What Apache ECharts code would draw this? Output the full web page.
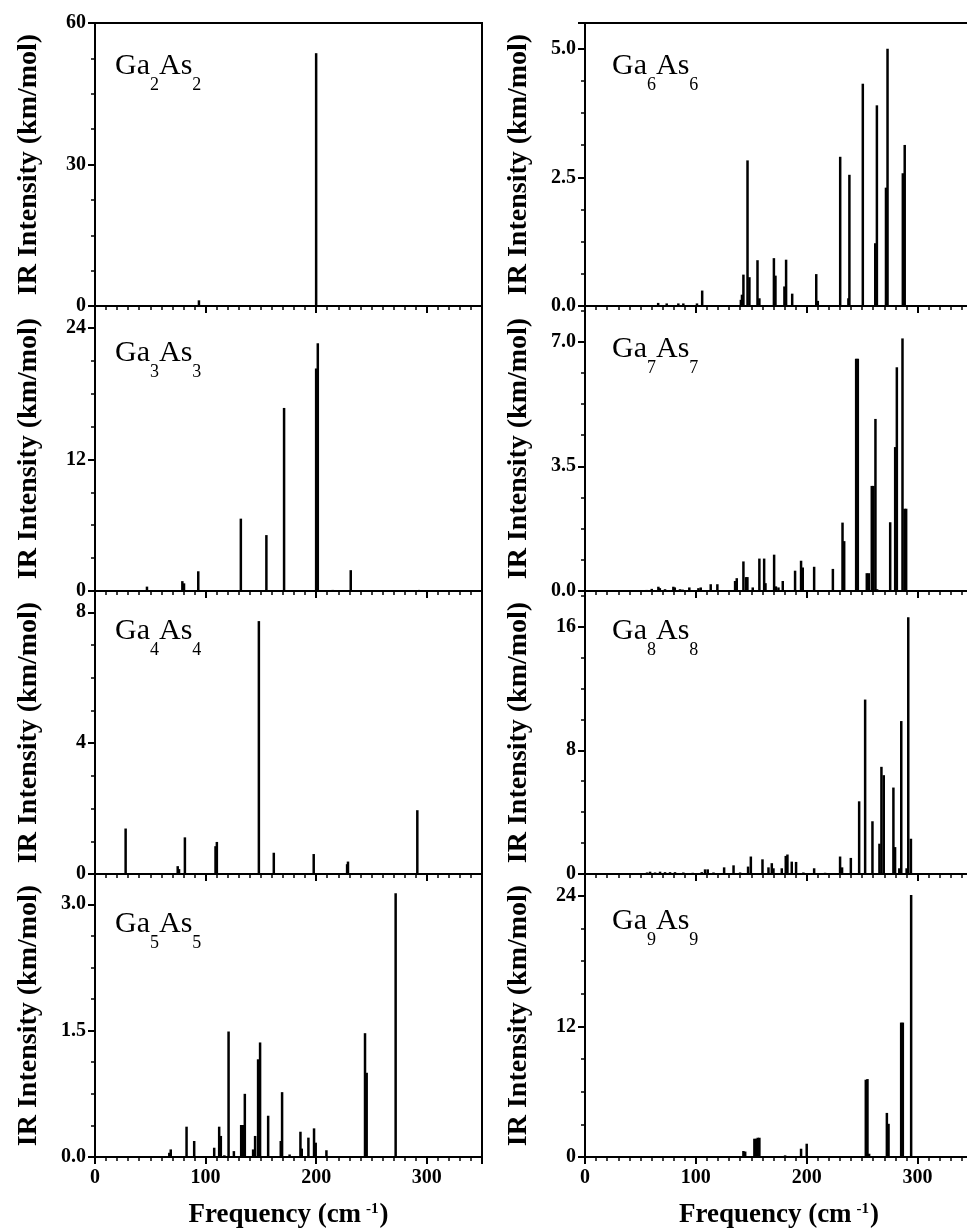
<!DOCTYPE html>
<html>
<head>
<meta charset="utf-8">
<script src="https://cdn.jsdelivr.net/npm/echarts@6/dist/echarts.min.js"></script>
<style>
  html, body { margin: 0; padding: 0; background: #fff; }
  #chart { width: 967px; height: 1230px; }
</style>
</head>
<body>
<div id="chart"></div>
<script>
// stick spectra, frequency (cm-1) / IR intensity (km/mol)
var ga2Freq = [94, 200];
var ga2Int = [1.2, 53.6];

var ga3Freq = [47, 79, 80.5, 93.4, 131.9, 155, 171, 200, 201.5, 215, 231.3, 293];
var ga3Int = [0.4, 0.9, 0.7, 1.8, 6.6, 5.1, 16.7, 20.3, 22.6, 0.1, 1.9, 0.1];

var ga4Freq = [27.7, 74.8, 76, 81.3, 109, 110.2, 148.2, 161.7, 197.8, 228, 228.8, 291.5];
var ga4Int = [1.39, 0.24, 0.15, 1.12, 0.85, 0.98, 7.73, 0.65, 0.61, 0.3, 0.38, 1.95];

var ga5Freq = [67.2, 68.5, 82.8, 89.7, 107.8, 112.3, 113.8, 117, 120.8, 125.6, 132.2, 133.7, 135.5, 143, 144.8,
  147.5, 149.3, 156.6, 168, 169.2, 176, 185.8, 187, 193, 198.1, 199.6, 209.3, 244.2, 245.7, 271.9];
var ga5Int = [0.05, 0.09, 0.36, 0.19, 0.11, 0.36, 0.25, 0.02, 1.49, 0.07, 0.38, 0.38, 0.75, 0.09, 0.25,
  1.16, 1.36, 0.49, 0.19, 0.77, 0.03, 0.3, 0.1, 0.23, 0.34, 0.17, 0.08, 1.47, 1.0, 3.13];

var ga6Freq = [37.6, 66, 73.7, 84.2, 88.7, 101, 105.7, 140.6, 141.6, 142.9, 146.6, 148.3, 155.6, 157.3,
  170.4, 171.8, 179.9, 181.4, 186.9, 208.6, 210, 230.2, 237.6, 238.5, 250.6, 261.8, 263.3, 271.5, 272.9, 286.7, 288.4];
var ga6Int = [0.02, 0.06, 0.05, 0.05, 0.05, 0.05, 0.3, 0.12, 0.22, 0.61, 2.83, 0.56, 0.89, 0.15,
  0.93, 0.59, 0.38, 0.9, 0.24, 0.62, 0.1, 2.9, 0.15, 2.55, 4.32, 1.22, 3.9, 2.3, 5.0, 2.58, 3.13];

var ga7Freq = [52.6, 55.6, 60.2, 66.2, 67.5, 72.2, 79.7, 81, 85.7, 88, 94.1, 102.3, 104.4, 113.4, 119.4,
  135.4, 136.9, 142.9, 145.3, 146.5, 151.3, 157.3, 161.6, 162.8, 170.6, 172.2, 174.5, 178.4, 189.5, 194.9,
  196.4, 206.7, 223.6, 232.3, 233.8, 244.6, 246.1, 254.2, 256, 258.7, 260.2, 262, 263.5, 275.3, 279.8,
  281.3, 286.4, 288.2, 289.7];
var ga7Int = [0.02, 0.03, 0.06, 0.12, 0.08, 0.05, 0.12, 0.1, 0.05, 0.04, 0.1, 0.08, 0.1, 0.19, 0.19,
  0.28, 0.36, 0.83, 0.39, 0.39, 0.1, 0.91, 0.91, 0.22, 1.02, 0.13, 0.1, 0.28, 0.57, 0.85,
  0.66, 0.68, 0.62, 1.92, 1.4, 6.52, 6.52, 0.5, 0.5, 2.95, 2.95, 4.83, 0.05, 1.93, 4.04,
  6.28, 7.09, 2.31, 2.31];

var ga8Freq = [47, 56, 58.7, 63.2, 67.7, 72.2, 76.7, 81.2, 88.7, 97.2, 105.3, 108.3, 110.7, 115.9, 125.5,
  134, 139.9, 147.1, 149.6, 160.1, 165.5, 168.5, 170, 177.5, 181.1, 182.6, 186.5, 190.4, 197, 206.7,
  216.6, 230.1, 231.9, 239.8, 247.3, 252.7, 259.3, 265.6, 267.4, 269.5, 278.2, 279.7, 283.5, 285.3,
  290.1, 291.6, 294];
var ga8Int = [0.03, 0.1, 0.15, 0.1, 0.15, 0.12, 0.12, 0.12, 0.1, 0.08, 0.12, 0.3, 0.3, 0.1, 0.43,
  0.56, 0.1, 0.48, 1.13, 0.95, 0.43, 0.7, 0.37, 0.37, 1.17, 1.26, 0.8, 0.78, 0.1, 0.37,
  0.08, 1.13, 0.43, 1.04, 4.7, 11.28, 3.41, 1.96, 6.93, 6.39, 5.59, 1.74, 0.37, 9.89,
  0.37, 16.6, 2.28];

var ga9Freq = [142.9, 144.5, 152.8, 154.3, 155.8, 157.3, 180.5, 194.9, 200, 253.3, 254.8, 256.3, 272.3, 273.8, 285.2, 286.7, 294.2];
var ga9Int = [0.55, 0.5, 1.68, 1.68, 1.77, 1.77, 0.15, 0.76, 1.22, 7.1, 7.16, 0.3, 4.05, 3.05, 12.35, 12.35, 24.08];

// cluster size n, y-axis top, major tick step, decimals on tick labels
var clusterN = [2, 3, 4, 5, 6, 7, 8, 9];
var yMax = [60, 26, 8.65, 3.36, 5.5, 8, 18.3, 26];
var yStep = [30, 12, 4, 1.5, 2.5, 3.5, 8, 12];
var yDec = [0, 0, 0, 1, 1, 1, 0, 0];
var xTicks = [0, 100, 200, 300];

var freqs = [ga2Freq, ga3Freq, ga4Freq, ga5Freq, ga6Freq, ga7Freq, ga8Freq, ga9Freq];
var ints = [ga2Int, ga3Int, ga4Int, ga5Int, ga6Int, ga7Int, ga8Int, ga9Int];

// layout
var rowTops = [23, 306, 591, 874, 1157];
var colLeft = [95, 585];
var colWidth = [387, 388];
var labelDy = [28, 32, 25, 35, 28, 28, 25, 32];
var serif = 'Liberation Serif';

var grids = [], xAxes = [], yAxes = [], series = [], titles = [];

for (var i = 0; i < 8; i++) {
  var col = i < 4 ? 0 : 1;
  var row = i % 4;
  var bottom = row === 3;
  var dec = yDec[i];

  grids.push({
    left: colLeft[col],
    width: colWidth[col],
    top: rowTops[row],
    height: rowTops[row + 1] - rowTops[row],
    show: true,
    borderColor: '#000',
    borderWidth: 2,
    containLabel: false,
    outerBoundsMode: 'none'
  });

  xAxes.push({
    type: 'value',
    gridIndex: i,
    min: 0,
    max: 350,
    interval: 100,
    name: bottom ? '{a|Frequency (cm}{s|-1}{a|)}' : '',
    nameLocation: 'middle',
    nameGap: 45,
    nameTextStyle: {
      rich: {
        a: { fontFamily: serif, fontWeight: 'bold', fontSize: 27, color: '#000', verticalAlign: 'top' },
        s: { fontFamily: serif, fontWeight: 'bold', fontSize: 15, color: '#000', verticalAlign: 'top', padding: [0, 1, 0, 5] }
      }
    },
    axisLine: { lineStyle: { color: '#000', width: 2 } },
    axisTick: { length: 7, lineStyle: { color: '#000', width: 2 } },
    minorTick: { show: true, splitNumber: 10, length: 4, lineStyle: { color: '#000', width: 1.5 } },
    splitLine: { show: false },
    axisLabel: {
      show: bottom,
      margin: 11,
      fontFamily: serif,
      fontWeight: 'bold',
      fontSize: 20,
      color: '#000',
      customValues: xTicks
    }
  });

  yAxes.push({
    type: 'value',
    gridIndex: i,
    min: 0,
    max: yMax[i],
    interval: yStep[i],
    name: 'IR Intensity (km/mol)',
    nameLocation: 'middle',
    nameGap: 52,
    nameTextStyle: { fontFamily: serif, fontWeight: 'bold', fontSize: 28, color: '#000' },
    axisLine: { lineStyle: { color: '#000', width: 2 } },
    axisTick: { length: 7, lineStyle: { color: '#000', width: 2 } },
    minorTick: { show: true, splitNumber: 4, length: 4, lineStyle: { color: '#000', width: 1.5 } },
    splitLine: { show: false },
    axisLabel: {
      margin: 9,
      fontFamily: serif,
      fontWeight: 'bold',
      fontSize: 20,
      color: '#000',
      showMaxLabel: yMax[i] % yStep[i] === 0,
      formatter: (function (d) {
        return function (v) { return v.toFixed(d); };
      })(dec)
    }
  });

  var pts = freqs[i].map(function (f, k) { return [f, ints[i][k]]; });
  series.push({
    type: 'bar',
    xAxisIndex: i,
    yAxisIndex: i,
    data: pts,
    barWidth: 2.5,
    silent: true,
    itemStyle: { color: '#000' }
  });

  var n = String(clusterN[i]);
  titles.push({
    text: '{m|Ga}{s|' + n + '}{m|As}{s|' + n + '}',
    left: colLeft[col] + (col ? 27 : 20),
    top: rowTops[row] + labelDy[i],
    padding: 0,
    textStyle: {
      fontWeight: 'normal',
      rich: {
        m: { fontFamily: serif, fontWeight: 'normal', fontSize: 30, color: '#000', verticalAlign: 'top' },
        s: { fontFamily: serif, fontWeight: 'normal', fontSize: 18, color: '#000', verticalAlign: 'top', padding: [25, 0, 0, 0] }
      }
    }
  });
}

var chart = echarts.init(document.getElementById('chart'), null, { renderer: 'canvas' });
chart.setOption({
  backgroundColor: '#fff',
  animation: false,
  title: titles,
  grid: grids,
  xAxis: xAxes,
  yAxis: yAxes,
  series: series
});
</script>
</body>
</html>
